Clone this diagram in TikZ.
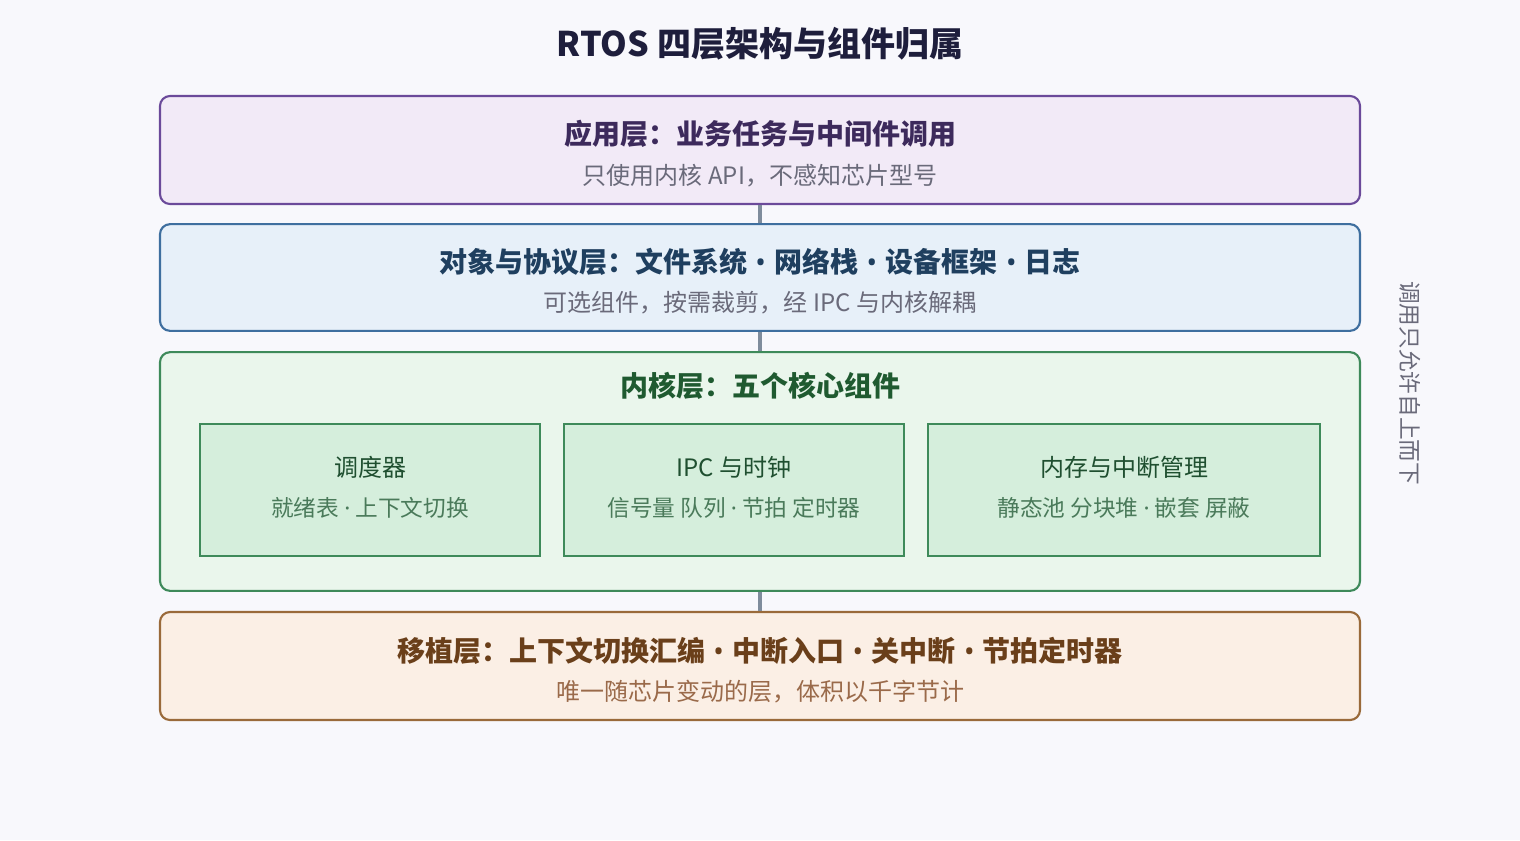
\documentclass[tikz,border=0pt]{standalone}
\usepackage{fontspec}
\setmainfont{Noto Sans CJK SC}
\newfontfamily\dotfont{Noto Sans}
\usepackage{tikz}
\usetikzlibrary{calc}
\definecolor{bgcol}{HTML}{F8F8FC}
\definecolor{titlecol}{HTML}{1E1E3C}
\definecolor{appline}{HTML}{6B4A9A}
\definecolor{appfill}{HTML}{F2EAF7}
\definecolor{apptext}{HTML}{3D2A5C}
\definecolor{objline}{HTML}{3F6F9F}
\definecolor{objfill}{HTML}{E7F0F9}
\definecolor{objtext}{HTML}{1F3F5F}
\definecolor{kernline}{HTML}{3E8A5A}
\definecolor{kernfill}{HTML}{EAF6EC}
\definecolor{kerntext}{HTML}{1F5A30}
\definecolor{compfill}{HTML}{D5EEDC}
\definecolor{comptext}{HTML}{1F4F30}
\definecolor{compsub}{HTML}{4A7A5A}
\definecolor{portline}{HTML}{9A6A3A}
\definecolor{portfill}{HTML}{FBEFE5}
\definecolor{porttext}{HTML}{6A3F1A}
\definecolor{portsub}{HTML}{9A6A4A}
\definecolor{subcol}{HTML}{6A6A7A}
\definecolor{linkcol}{HTML}{7F8C9C}
\tikzstyle{layer} = [draw,rectangle,rounded corners=7.5pt,line width=1.6pt,minimum width=900pt]
\tikzstyle{comp} = [draw=kernline,fill=compfill,rectangle,line width=1.2pt,minimum height=99pt]
\tikzstyle{head} = [font=\fontsize{21}{24}\selectfont\bfseries]
\tikzstyle{note} = [font=\fontsize{18}{21}\selectfont]
\tikzstyle{comphead} = [font=\fontsize{18}{21}\selectfont,text=comptext]
\tikzstyle{compnote} = [font=\fontsize{17}{20}\selectfont,text=compsub]
\tikzstyle{line} = [draw=linkcol,line width=2.4pt]
\newcommand{\bul}{\hspace{0.3em}{\dotfont\bfseries •}\hspace{0.3em}}
\newcommand{\mdot}{ {\dotfont ·} }
\begin{document}
\begin{tikzpicture}[x=0.75pt,y=-0.75pt]
    \fill[bgcol] (0,0) rectangle (1520,840);
    \useasboundingbox (0,0) rectangle (1520,840);
    \node[font=\fontsize{25.5}{30}\selectfont\bfseries,text=titlecol] (title) at (760,44)
      {RTOS 四层架构与组件归属};

    % the four layers
    \node[layer,draw=appline,fill=appfill,minimum height=81pt] (app) at (760,150) {};
    \node[layer,draw=objline,fill=objfill,minimum height=80pt] (obj) at (760,277.5) {};
    \node[layer,draw=kernline,fill=kernfill,minimum height=179pt] (kern) at (760,471.5) {};
    \node[layer,draw=portline,fill=portfill,minimum height=81pt] (port) at (760,666) {};

    % layer texts
    \node[head,text=apptext] (apphead) at ($(app)+(0,-16)$) {应用层：业务任务与中间件调用};
    \node[note,text=subcol] (appnote) at ($(app)+(0,26)$) {只使用内核 API，不感知芯片型号};
    \node[head,text=objtext] (objhead) at ($(obj)+(0,-15.5)$)
      {对象与协议层：文件系统\bul{}网络栈\bul{}设备框架\bul{}日志};
    \node[note,text=subcol] (objnote) at ($(obj)+(0,25.5)$) {可选组件，按需裁剪，经 IPC 与内核解耦};
    \node[head,text=kerntext] (kernhead) at (760,386) {内核层：五个核心组件};
    \node[head,text=porttext] (porthead) at ($(port)+(0,-15)$)
      {移植层：上下文切换汇编\bul{}中断入口\bul{}关中断\bul{}节拍定时器};
    \node[note,text=portsub] (portnote) at ($(port)+(0,26)$) {唯一随芯片变动的层，体积以千字节计};

    % kernel components
    \node[comp,minimum width=255pt] (sched) at (370,490) {};
    \node[comp,minimum width=255pt] (ipc) at (734,490) {};
    \node[comp,minimum width=294pt] (mem) at (1124,490) {};
    \node[comphead] at ($(sched)+(0,-23)$) {调度器};
    \node[compnote] at ($(sched)+(0,18)$) {就绪表\mdot{}上下文切换};
    \node[comphead] at ($(ipc)+(0,-23)$) {IPC 与时钟};
    \node[compnote] at ($(ipc)+(0,18)$) {信号量 队列\mdot{}节拍 定时器};
    \node[comphead] at ($(mem)+(0,-23)$) {内存与中断管理};
    \node[compnote] at ($(mem)+(0,18)$) {静态池 分块堆\mdot{}嵌套 屏蔽};

    % now link the layers
    \draw[line] (app.south) -- (obj.north);
    \draw[line] (obj.south) -- (kern.north);
    \draw[line] (kern.south) -- (port.north);

    \node[font=\fontsize{17}{20}\selectfont,text=subcol,rotate=-90] (rule) at (1410,383)
      {调用只允许自上而下};
\end{tikzpicture}
\end{document}
